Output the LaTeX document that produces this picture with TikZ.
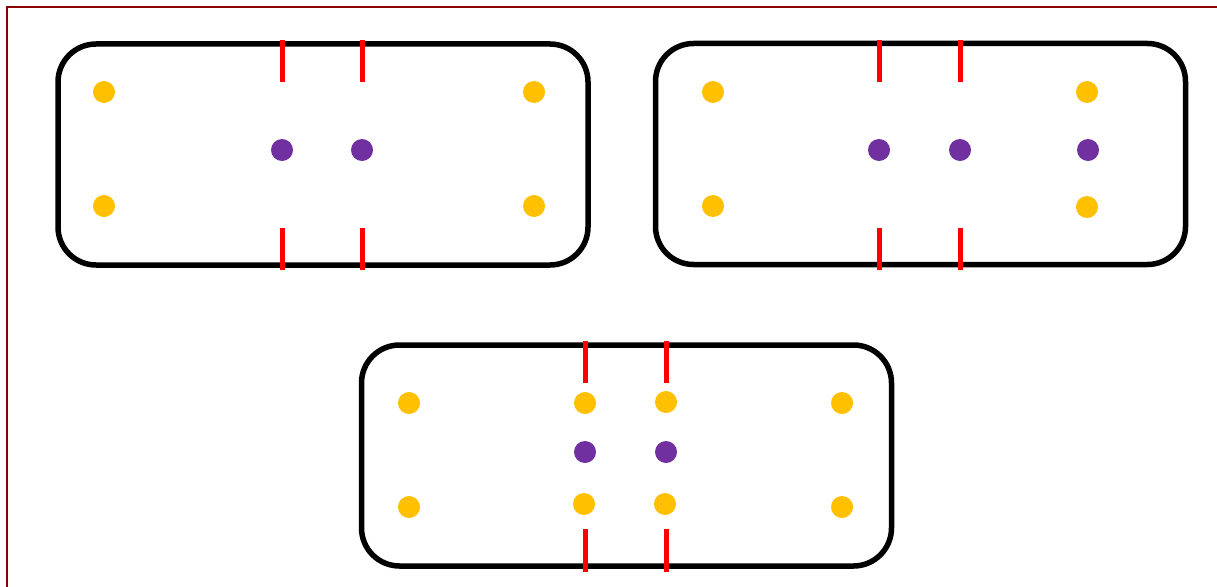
\documentclass[tikz,border=0pt]{standalone}
\definecolor{dotyellow}{HTML}{FFC000}
\definecolor{dotpurple}{HTML}{7030A0}
\definecolor{tickred}{HTML}{FF0000}
\definecolor{frame}{HTML}{8B0000}
\tikzset{
  panel/.style={draw=black, line width=5.5pt, rounded corners=38pt, rectangle, minimum width=530pt, minimum height=221pt, inner sep=0pt, outer sep=0pt},
  ydot/.style={circle, fill=dotyellow, minimum size=22pt, inner sep=0pt},
  pdot/.style={circle, fill=dotpurple, minimum size=22pt, inner sep=0pt},
  tick/.style={draw=tickred, line width=5pt}
}
\begin{document}
\begin{tikzpicture}[x=1pt,y=-1pt]
\useasboundingbox (0,0) rectangle (1217,586);
\fill[white] (0,0) rectangle (1217,586);
\draw[frame, line width=2pt] (7,600) -- (7,7) -- (1230,7);
% panels
\node[panel] (p1) at (323,154.5) {};
\node[panel] (p2) at (920.5,154) {};
\node[panel] (p3) at (626.5,455.5) {};
% ticks panel 1
\coordinate (a1) at (282,40); \coordinate (a2) at (282,82);
\coordinate (a3) at (282,228); \coordinate (a4) at (282,270);
\coordinate (b1) at (362,40); \coordinate (b2) at (362,82);
\coordinate (b3) at (362,228); \coordinate (b4) at (362,270);
\draw[tick] (a1) -- (a2); \draw[tick] (a3) -- (a4);
\draw[tick] (b1) -- (b2); \draw[tick] (b3) -- (b4);
% ticks panel 2
\coordinate (c1) at (879,40); \coordinate (c2) at (879,82);
\coordinate (c3) at (879,228); \coordinate (c4) at (879,270);
\coordinate (d1) at (960,40); \coordinate (d2) at (960,82);
\coordinate (d3) at (960,228); \coordinate (d4) at (960,270);
\draw[tick] (c1) -- (c2); \draw[tick] (c3) -- (c4);
\draw[tick] (d1) -- (d2); \draw[tick] (d3) -- (d4);
% ticks panel 3
\coordinate (e1) at (585,341); \coordinate (e2) at (585,383);
\coordinate (e3) at (585,529); \coordinate (e4) at (585,572);
\coordinate (f1) at (666,341); \coordinate (f2) at (666,383);
\coordinate (f3) at (666,529); \coordinate (f4) at (666,572);
\draw[tick] (e1) -- (e2); \draw[tick] (e3) -- (e4);
\draw[tick] (f1) -- (f2); \draw[tick] (f3) -- (f4);
% dots panel 1
\node[ydot] (y11) at (104,92) {};
\node[ydot] (y12) at (104,206) {};
\node[ydot] (y13) at (534,92) {};
\node[ydot] (y14) at (534,206) {};
\node[pdot] (q11) at (282,150) {};
\node[pdot] (q12) at (362,150) {};
% dots panel 2
\node[ydot] (y21) at (713,92) {};
\node[ydot] (y22) at (713,206) {};
\node[ydot] (y23) at (1087,92) {};
\node[ydot] (y24) at (1087,207) {};
\node[pdot] (q21) at (879,150) {};
\node[pdot] (q22) at (960,150) {};
\node[pdot] (q23) at (1088,150) {};
% dots panel 3
\node[ydot] (y31) at (409,403) {};
\node[ydot] (y32) at (409,507) {};
\node[ydot] (y33) at (842,403) {};
\node[ydot] (y34) at (842,507) {};
\node[ydot] (y35) at (585,403) {};
\node[ydot] (y36) at (666,402) {};
\node[ydot] (y37) at (584,504) {};
\node[ydot] (y38) at (665,504) {};
\node[pdot] (q31) at (585,452) {};
\node[pdot] (q32) at (666,452) {};
\end{tikzpicture}
\end{document}
